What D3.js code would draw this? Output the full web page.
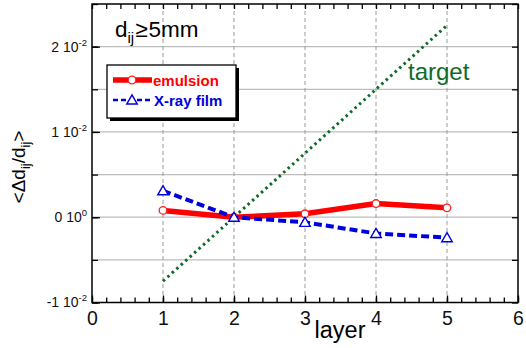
<!DOCTYPE html>
<html>
<head>
<meta charset="utf-8">
<script src="https://cdn.jsdelivr.net/npm/d3@7"></script>
<style>
  body { margin: 0; background: #fff; }
  svg { display: block; font-family: "Liberation Sans", Arial, sans-serif; }
</style>
</head>
<body>
<div id="chart"></div>
<script>
// data
var layers = [1, 2, 3, 4, 5];
var emulsion = [0.0008, 0.0, 0.0004, 0.0016, 0.0011];
var xrayFilm = [0.0031, 0.0, -0.0006, -0.0019, -0.0024];
var target = [-0.0075, 0.0, 0.0075, 0.015, 0.0225];

var xTicks = [0, 1, 2, 3, 4, 5, 6];
var yTicks = [-0.01, 0, 0.01, 0.02];
var yTickMant = ["-1", "0", "1", "2"];
var yTickExp = ["-2", "0", "-2", "-2"];
var yGrid = [-0.005, 0, 0.005, 0.01, 0.015, 0.02];

function draw() {
    var w = 526, h = 348;
    var margin = { top: 4, right: 8, bottom: 45.5, left: 92 };
    var iw = w - margin.left - margin.right;
    var ih = h - margin.top - margin.bottom;

    var svg = d3.select("#chart").append("svg")
        .attr("width", w)
        .attr("height", h);

    var g = svg.append("g")
        .attr("transform", "translate(" + margin.left + "," + margin.top + ")");

    var x = d3.scaleLinear().domain([0, 6]).range([0, iw]);
    var y = d3.scaleLinear().domain([-0.01, 0.025]).range([ih, 0]);

    // grid
    g.selectAll(".hgrid").data(yGrid).enter().append("line")
        .attr("x1", 0).attr("x2", iw)
        .attr("y1", function (d) { return y(d); })
        .attr("y2", function (d) { return y(d); })
        .attr("stroke", "#bdbdbd").attr("stroke-width", 1.2);

    g.selectAll(".vgrid").data(layers).enter().append("line")
        .attr("y1", 0).attr("y2", ih)
        .attr("x1", function (d) { return x(d); })
        .attr("x2", function (d) { return x(d); })
        .attr("stroke", "#9a9a9a").attr("stroke-width", 1)
        .attr("stroke-dasharray", "4,3");

    // minor ticks
    var xMinor = d3.range(0, 6.01, 0.2);
    var yMinor = d3.range(-0.01, 0.0251, 0.005);

    g.append("g").attr("transform", "translate(0," + ih + ")")
        .call(d3.axisBottom(x).tickValues(xMinor).tickSize(-5).tickFormat(""));
    g.append("g")
        .call(d3.axisTop(x).tickValues(xMinor).tickSize(-5).tickFormat(""));
    g.append("g")
        .call(d3.axisLeft(y).tickValues(yMinor).tickSize(-6).tickFormat(""));
    g.append("g").attr("transform", "translate(" + iw + ",0)")
        .call(d3.axisRight(y).tickValues(yMinor).tickSize(-6).tickFormat(""));

    // major axes with labels
    var xAxis = g.append("g").attr("transform", "translate(0," + ih + ")")
        .call(d3.axisBottom(x).tickValues(xTicks).tickSize(-7).tickPadding(9).tickFormat(d3.format("d")));
    xAxis.selectAll("text").attr("font-size", 19.5).attr("fill", "#111")
        .attr("font-family", "Liberation Sans, Arial, sans-serif");

    var yAxis = g.append("g")
        .call(d3.axisLeft(y).tickValues(yTicks).tickSize(-8).tickPadding(5));
    yAxis.selectAll("text").each(function (d, i) {
        var t = d3.select(this);
        t.text(null)
            .attr("font-size", 14).attr("fill", "#111")
            .attr("font-family", "Liberation Sans, Arial, sans-serif");
        t.append("tspan").text(yTickMant[i] + " 10");
        t.append("tspan").attr("dy", -6).attr("font-size", 9.5).text(yTickExp[i]);
    });

    svg.selectAll(".domain").remove();
    svg.selectAll(".tick line").attr("stroke", "#000").attr("stroke-width", 1.3);

    // frame
    g.append("rect").attr("width", iw).attr("height", ih)
        .attr("fill", "none").attr("stroke", "#000").attr("stroke-width", 1.5);

    // target
    var line = d3.line()
        .x(function (d, i) { return x(layers[i]); })
        .y(function (d) { return y(d); });

    g.append("path").datum(target)
        .attr("d", line).attr("fill", "none")
        .attr("stroke", "#0e6b27").attr("stroke-width", 3)
        .attr("stroke-dasharray", "2.5,3.5");

    // emulsion
    g.append("path").datum(emulsion)
        .attr("d", line).attr("fill", "none")
        .attr("stroke", "#ff0000").attr("stroke-width", 5.5);

    g.selectAll(".dot").data(emulsion).enter().append("circle")
        .attr("cx", function (d, i) { return x(layers[i]); })
        .attr("cy", function (d) { return y(d); })
        .attr("r", 3.8)
        .attr("fill", "#fff").attr("stroke", "#ff2020").attr("stroke-width", 1.3);

    // x-ray film
    g.append("path").datum(xrayFilm)
        .attr("d", line).attr("fill", "none")
        .attr("stroke", "#0000dd").attr("stroke-width", 4)
        .attr("stroke-dasharray", "8,4");

    var tri = d3.symbol().type(d3.symbolTriangle).size(48);

    g.selectAll(".tri").data(xrayFilm).enter().append("path")
        .attr("d", tri)
        .attr("transform", function (d, i) { return "translate(" + x(layers[i]) + "," + (y(d) + 1) + ")"; })
        .attr("fill", "#fff").attr("stroke", "#0000dd").attr("stroke-width", 1.4);

    // label d_ij >= 5mm
    var lab = svg.append("text").attr("x", 115).attr("y", 37)
        .attr("font-size", 22.5).attr("fill", "#000");
    lab.append("tspan").text("d");
    lab.append("tspan").attr("dy", 6).attr("font-size", 15).text("ij");
    lab.append("tspan").attr("dy", -6).attr("dx", 1).text("\u2265");
    lab.append("tspan").attr("dx", 1).text("5mm");

    // target label
    svg.append("text").attr("x", 408).attr("y", 80)
        .attr("font-size", 24).attr("fill", "#0e6b27").text("target");

    // legend
    var lg = svg.append("g").attr("transform", "translate(107,65)");
    lg.append("rect").attr("x", 3).attr("y", 3).attr("width", 129).attr("height", 53).attr("fill", "#000");
    lg.append("rect").attr("width", 129).attr("height", 53)
        .attr("fill", "#fff").attr("stroke", "#000").attr("stroke-width", 1.3);

    lg.append("line").attr("x1", 6).attr("x2", 45).attr("y1", 15).attr("y2", 15)
        .attr("stroke", "#ff0000").attr("stroke-width", 5.5);
    lg.append("circle").attr("cx", 25).attr("cy", 15).attr("r", 3.8)
        .attr("fill", "#fff").attr("stroke", "#ff2020").attr("stroke-width", 1.3);
    lg.append("text").attr("x", 46).attr("y", 20.5)
        .attr("font-size", 15).attr("font-weight", "bold").attr("fill", "#ff0000").text("emulsion");

    lg.append("line").attr("x1", 6).attr("x2", 45).attr("y1", 35).attr("y2", 35)
        .attr("stroke", "#0000dd").attr("stroke-width", 2.5).attr("stroke-dasharray", "5,3");
    lg.append("path").attr("d", tri)
        .attr("transform", "translate(25,36)")
        .attr("fill", "#fff").attr("stroke", "#0000dd").attr("stroke-width", 1.4);
    lg.append("text").attr("x", 47).attr("y", 40.5)
        .attr("font-size", 15).attr("font-weight", "bold").attr("fill", "#0000dd").text("X-ray film");

    // axis titles
    svg.append("text").attr("x", 340).attr("y", 338)
        .attr("text-anchor", "middle").attr("font-size", 23.5).attr("fill", "#000").text("layer");

    var yl = svg.append("text")
        .attr("transform", "translate(25,167) rotate(-90)")
        .attr("text-anchor", "middle").attr("font-size", 19).attr("fill", "#000");
    yl.append("tspan").text("<\u0394d");
    yl.append("tspan").attr("dy", 5).attr("font-size", 13).text("ij");
    yl.append("tspan").attr("dy", -5).text("/d");
    yl.append("tspan").attr("dy", 5).attr("font-size", 13).text("ij");
    yl.append("tspan").attr("dy", -5).text(">");
}

draw();
</script>
</body>
</html>
